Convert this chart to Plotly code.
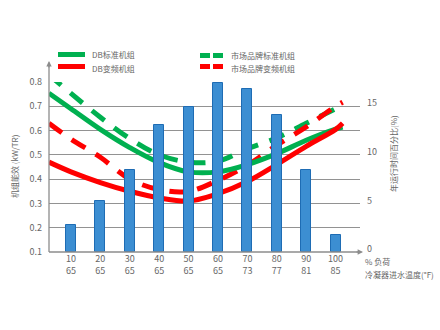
import plotly.graph_objects as go

# Load steps (%) and matching condenser entering water temperature (°F)
LOAD = [10, 20, 30, 40, 50, 60, 70, 80, 90, 100]
COND_TEMP = [65, 65, 65, 65, 65, 65, 73, 77, 81, 85]
# Share of annual operating hours at each load (%)
HOURS_PCT = [2.8, 5.3, 8.4, 13.1, 14.9, 17.4, 16.8, 14.1, 8.4, 1.8]

# Efficiency curves (kW/TR) sampled along the load axis
CURVE_LOAD = [2.5, 10, 20, 30, 40, 50, 60, 70, 80, 90, 100, 102.4]
DB_STD = [0.754, 0.69, 0.605, 0.53, 0.468, 0.43, 0.43, 0.46, 0.505, 0.56, 0.606, 0.614]
DB_VFD = [0.47, 0.43, 0.386, 0.35, 0.323, 0.31, 0.34, 0.39, 0.46, 0.535, 0.605, 0.63]
MKT_STD_LOAD = [2.5, 10, 20, 30, 40, 50, 60, 70, 80, 90, 100]
MKT_STD = [0.83, 0.753, 0.655, 0.567, 0.50, 0.47, 0.474, 0.525, 0.57, 0.63, 0.69]
MKT_VFD = [0.63, 0.565, 0.49, 0.40, 0.357, 0.35, 0.395, 0.458, 0.54, 0.615, 0.70, 0.717]

NAMES = ["DB标准机组", "DB变频机组", "市场品牌标准机组", "市场品牌变频机组"]

GREEN = "#00B050"
RED = "#FF0000"
GREY = "#8C8C8C"
TXT = "#666666"
CJK = "Noto Sans CJK SC"

fig = go.Figure()

fig.add_trace(go.Bar(
    x=LOAD, y=HOURS_PCT, yaxis="y2", width=3.4,
    marker=dict(color="#3C8ED2", line=dict(color="#1E6CB4", width=1)),
    showlegend=False,
))

dash = "16px,12px"
fig.add_trace(go.Scatter(x=MKT_STD_LOAD, y=MKT_STD, mode="lines", line_shape="spline",
                         line=dict(color=GREEN, width=5, dash=dash), name=NAMES[2]))
fig.add_trace(go.Scatter(x=CURVE_LOAD, y=MKT_VFD, mode="lines", line_shape="spline",
                         line=dict(color=RED, width=5, dash=dash), name=NAMES[3]))
fig.add_trace(go.Scatter(x=CURVE_LOAD, y=DB_STD, mode="lines", line_shape="spline",
                         line=dict(color=GREEN, width=5), name=NAMES[0]))
fig.add_trace(go.Scatter(x=CURVE_LOAD, y=DB_VFD, mode="lines", line_shape="spline",
                         line=dict(color=RED, width=5), name=NAMES[1]))

L, R, T, B = 49, 80, 82, 78
PW, PH = 440 - L - R, 330 - T - B


def px(x):
    return (x - L) / PW


def py(y):
    return (330 - B - y) / PH


shapes = [
    # axis lines extended past the plot area
    dict(type="line", xref="paper", yref="paper", x0=0, x1=0, y0=0, y1=py(63),
         line=dict(color=GREY, width=1.3)),
    dict(type="line", xref="paper", yref="paper", x0=0, x1=px(361), y0=0, y1=0,
         line=dict(color=GREY, width=1.3)),
    # legend samples
    dict(type="line", xref="paper", yref="paper", x0=px(58), x1=px(85), y0=py(54.5), y1=py(54.5),
         line=dict(color=GREEN, width=5)),
    dict(type="line", xref="paper", yref="paper", x0=px(58), x1=px(85), y0=py(66.5), y1=py(66.5),
         line=dict(color=RED, width=5)),
    dict(type="line", xref="paper", yref="paper", x0=px(200), x1=px(223), y0=py(55.5), y1=py(55.5),
         line=dict(color=GREEN, width=5, dash="10px,3px")),
    dict(type="line", xref="paper", yref="paper", x0=px(200), x1=px(223), y0=py(66.5), y1=py(66.5),
         line=dict(color=RED, width=5, dash="10px,3px")),
]

ann = []


def label(text, x, y, size=8, anchor="left", angle=0):
    ann.append(dict(text=text, xref="paper", yref="paper", x=px(x), y=py(y),
                    xanchor=anchor, yanchor="middle", showarrow=False, textangle=angle,
                    font=dict(family=CJK, size=size, color=TXT)))


label(NAMES[0], 90, 54.5)
label(NAMES[1], 90, 68)
label(NAMES[2], 229, 55.5)
label(NAMES[3], 229, 68)
label("% 负荷", 363, 261)
label("冷凝器进水温度(°F)", 363, 274)
label("机组能效 (kW/TR)", 14, 167, anchor="center", angle=-90)
label("年运行时间百分比(%)", 393, 154, anchor="center", angle=-90)

# arrowheads on the axes
ann.append(dict(xref="paper", yref="paper", x=0, y=py(61), ax=0, ay=8, axref="pixel", ayref="pixel",
                showarrow=True, arrowhead=2, arrowsize=0.9, arrowwidth=1.2, arrowcolor=GREY, text=""))
ann.append(dict(xref="paper", yref="paper", x=px(363), y=0, ax=-8, ay=0, axref="pixel", ayref="pixel",
                showarrow=True, arrowhead=2, arrowsize=0.9, arrowwidth=1.2, arrowcolor=GREY, text=""))

fig.update_layout(
    width=440, height=330,
    margin=dict(l=L, r=R, t=T, b=B, pad=0),
    paper_bgcolor="white", plot_bgcolor="white",
    showlegend=False,
    bargap=0,
    shapes=shapes, annotations=ann,
    font=dict(family=CJK, size=9, color=TXT),
    xaxis=dict(range=[2.53, 108.3], tickvals=LOAD,
               ticktext=[f"{a}<br>{b}" for a, b in zip(LOAD, COND_TEMP)],
               showgrid=False, zeroline=False, showline=False, ticks="",
               tickfont=dict(size=9, color=TXT)),
    yaxis=dict(range=[0.0999, 0.8001], dtick=0.1, tickformat=".1f",
               showgrid=True, gridcolor="#929292", gridwidth=1.4, zeroline=False,
               showline=False, ticks="", ticklabelstandoff=6,
               tickfont=dict(size=9, color=TXT)),
    yaxis2=dict(range=[0, 17.5], overlaying="y", side="right", tickvals=[0, 5, 10, 15],
                showgrid=False, zeroline=False, showline=False, ticks="",
                ticklabelstandoff=6, ticklabelshift=-3, tickfont=dict(size=9, color=TXT)),
)

fig.write_html("out.html")
